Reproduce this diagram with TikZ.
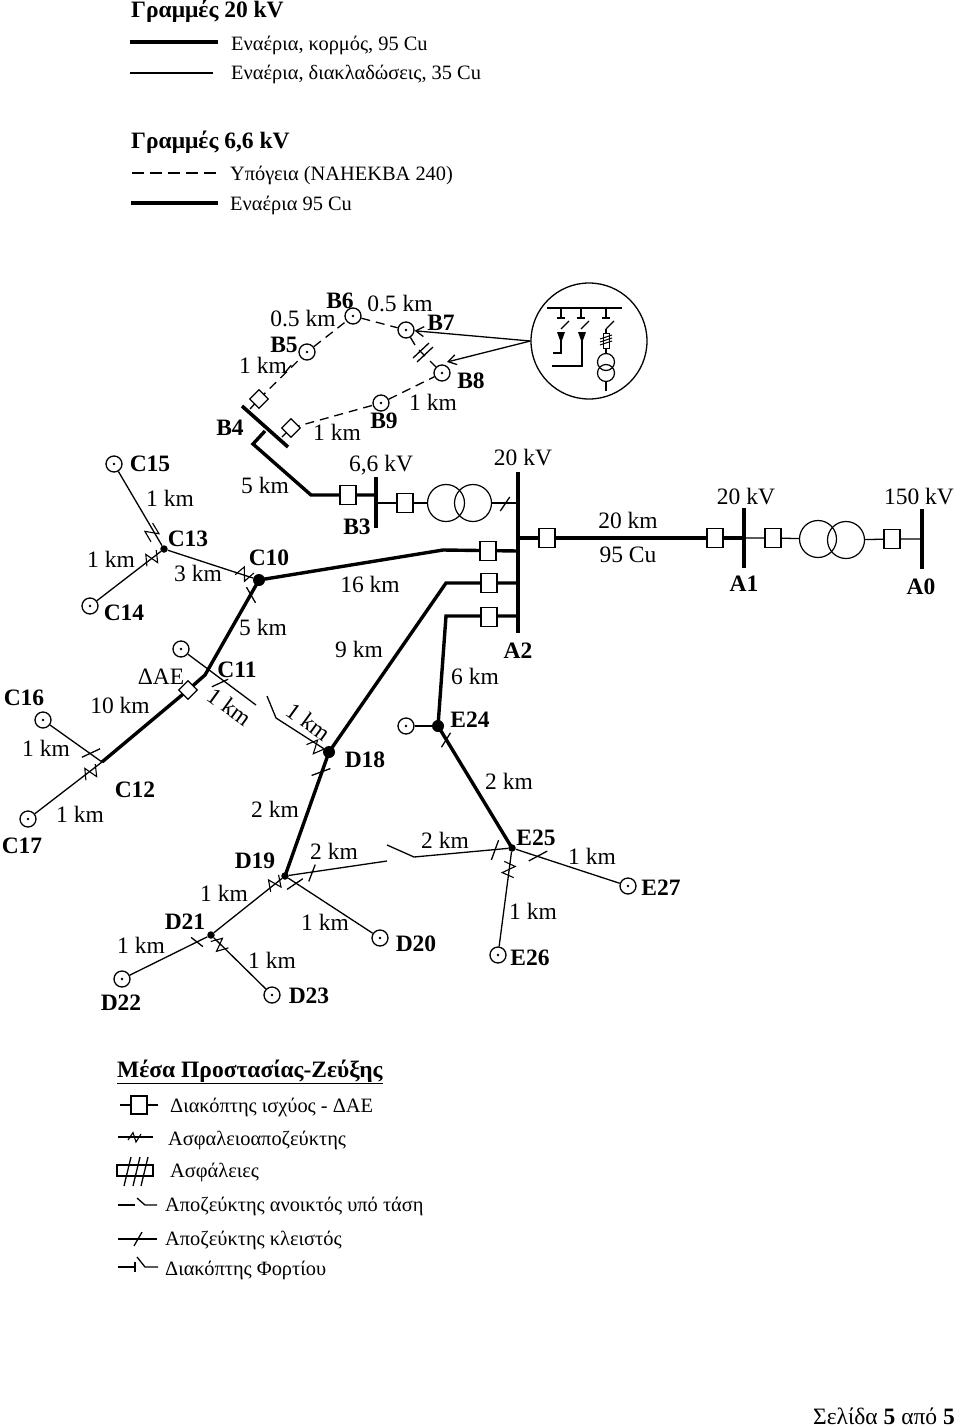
\documentclass[tikz,border=0pt]{standalone}
\usepackage{fontspec}
\setmainfont{Liberation Serif}
\usetikzlibrary{arrows.meta}

\tikzset{
    trunk/.style   = {line width = 3.4pt, line join = miter},
    branch/.style  = {line width = 1.3pt},
    pointer/.style = {line width = 1.3pt, -{Straight Barb[length = 8pt, width = 10pt]}},
    cable/.style   = {line width = 1.3pt, dash pattern = on 9pt off 6pt},
    cablekey/.style= {line width = 1.3pt, dash pattern = on 12pt off 6pt},
    busbar/.style  = {line width = 3.6pt},
    term/.style    = {circle, draw, line width = 1.3pt, minimum size = 16pt, inner sep = 0pt,
                      path picture = {\fill (path picture bounding box.center) circle (1.4pt);}},
    brk/.style     = {rectangle, draw, fill = white, line width = 1.2pt, minimum width = 16pt,
                      minimum height = 19pt, inner sep = 0pt},
    dae/.style     = {brk, minimum width = 13pt, minimum height = 13pt, rotate = 45},
    bigdot/.style  = {circle, fill, minimum size = 12pt, inner sep = 0pt},
    smalldot/.style= {circle, fill, minimum size = 7.5pt, inner sep = 0pt},
    trafo/.style   = {circle, draw, line width = 1.2pt, minimum size = 37pt, inner sep = 0pt},
    minitrafo/.style = {circle, draw, line width = 1.2pt, minimum size = 17pt, inner sep = 0pt},
    km/.style      = {font = \fontsize{23.5}{25}\selectfont, inner sep = 0pt},
    busname/.style = {font = \fontsize{23.5}{25}\selectfont\bfseries, inner sep = 0pt},
    legtext/.style = {font = \fontsize{20.4}{22}\selectfont, anchor = west, inner sep = 0pt},
    pics/slash/.style n args = {1}{code = {\draw[branch] (-#1,0pt) -- (#1,0pt);}},
    pics/fsw/.style = {code = {\draw[line width = 1.1pt] (-9pt,-4pt) -- (-3pt,6.5pt) -- (2pt,-7pt) -- (8pt,4pt);}},
    pics/fswkey/.style = {code = {\draw[line width = 1.1pt] (-7pt,-3pt) -- (-2pt,4.5pt) -- (1pt,-5pt) -- (6pt,3pt);}},
}

\begin{document}
\begin{tikzpicture}[x = 1pt, y = -1pt]
    \useasboundingbox (0,0) rectangle (960,1427);

    % line legend on top
    \node[busname, anchor = west] (title20) at (131,11)  {Γραμμές 20 kV};
    \node[busname, anchor = west] (title66) at (131,142) {Γραμμές 6,6 kV};
    \node[legtext] (txta) at (231,45)  {Εναέρια, κορμός, 95 Cu};
    \node[legtext] (txtb) at (231,74)  {Εναέρια, διακλαδώσεις, 35 Cu};
    \node[legtext] (txtc) at (230,175) {Υπόγεια (ΝΑΗΕΚΒΑ 240)};
    \node[legtext] (txtd) at (230,205) {Εναέρια 95 Cu};
    \foreach \n/\xa/\xb/\yy/\sty in {a/130/218/42/trunk, b/130/213/73/branch, c/132/216/173/cablekey, d/131/218/203/trunk} {
        \coordinate (\n0) at (\xa,\yy);
        \coordinate (\n1) at (\xb,\yy);
        \draw[\sty] (\n0) -- (\n1);
    }

    % terminals
    \foreach \n/\xx/\yy in {b5/307/352, b6/353/316, b7/406/330, b8/442/373, b9/381/403,
                            c11t/181/649, c14/90/606, c15/114/464, c16/43/720, c17/28/819,
                            d20/380/938, d22/122/979, d23/272/995,
                            e24t/406/726, e26/498/955, e27/628/886}
        \node[term] (\n) at (\xx,\yy) {};

    % junctions
    \node[bigdot] (c10) at (259,580) {};
    \node[bigdot] (d18) at (329,752) {};
    \node[bigdot] (e24) at (438,726) {};
    \node[smalldot] (c13) at (164,549) {};
    \node[smalldot] (d19) at (285,876) {};
    \node[smalldot] (d21) at (211,935) {};
    \node[smalldot] (e25) at (512,848) {};

    % busbars
    \foreach \n/\xx/\ya/\yb in {a0/922/509/569, a1/744/508/568, a2/518/472/633, b3/376/477/528} {
        \coordinate (\n t) at (\xx,\ya);
        \coordinate (\n b) at (\xx,\yb);
        \draw[busbar] (\n t) -- (\n b);
    }
    \coordinate (b4t) at (242,406);
    \coordinate (b4b) at (288,447);
    \draw[busbar] (b4t) -- (b4b);

    % 20 kV feeders
    \coordinate (a1m) at (744,538);
    \coordinate (a0m) at (922,539);
    \coordinate (a2m) at (518,538);
    \coordinate (a2p) at (518,551);
    \coordinate (a2q) at (518,583);
    \coordinate (a2r) at (518,616);
    \coordinate (a2s) at (518,503);
    \coordinate (b3m) at (376,503);
    \coordinate (b3n) at (376,495);
    \coordinate (b4m) at (265,431);
    \coordinate (c16e) at (102,762);
    \coordinate (c11) at (205,675);
    \coordinate (c11e) at (256,705);
    \coordinate (d18a) at (276,718);
    \coordinate (d18b) at (267,696);
    \coordinate (d19e) at (387,861);
    \coordinate (e25a) at (414,857);
    \coordinate (e25b) at (387,845);
    \draw[trunk] (a2m) -- (a1m);
    \draw[trunk] (a2p) -- (443,550) -- (c10.center);
    \draw[trunk] (a2q) -- (446,583) -- (d18.center);
    \draw[trunk] (a2r) -- (446,616) -- (e24.center);
    \draw[trunk] (e24.center) -- (e25.center);
    \draw[trunk] (d18.center) -- (d19.center);
    \draw[trunk] (c10.center) -- (c11) -- (188,690) -- (c16e);
    \draw[trunk] (b3n) -- (311,495) -- (253,444) -- (b4m);

    % thin lines
    \draw[branch] (c10) -- (c13);
    \draw[branch] (c13) -- (c14);
    \draw[branch] (c13) -- (c15);
    \draw[branch] (c16) -- (c16e);
    \draw[branch] (c17) -- (c16e);
    \draw[branch] (c11t) -- (c11e);
    \draw[branch] (d18) -- (d18a) -- (d18b);
    \draw[branch] (d19) -- (d19e);
    \draw[branch] (e25) -- (e25a) -- (e25b);
    \draw[branch] (d19) -- (d20);
    \draw[branch] (d19) -- (d21);
    \draw[branch] (d21) -- (d22);
    \draw[branch] (d21) -- (d23);
    \draw[branch] (e25) -- (e26);
    \draw[branch] (e25) -- (e27);
    \draw[branch] (e24t) -- (e24);

    % 6,6 kV ring
    \coordinate (b4a) at (250,409);
    \coordinate (b4c) at (282,437);
    \coordinate (fusea) at (415,345);
    \coordinate (fuseb) at (430,361);
    \draw[branch] (b4a) -- (259,399);
    \draw[branch] (b4c) -- (291,428);
    \draw[cable] (259,399) -- (b5);
    \draw[cable] (b5) -- (b6);
    \draw[cable] (b6) -- (b7);
    \draw[cable] (291,428) -- (b9);
    \draw[cable] (b9) -- (b8);
    \draw[branch] (b7) -- (fusea);
    \draw[branch] (fuseb) -- (b8);
    \draw[branch] (413,358) -- (429,343);
    \draw[branch] (417,362) -- (433,347);
    \draw[branch] (419,350) -- (425,356);

    % breakers
    \foreach \n/\xx/\yy in {q1/348/495, q2/405/503, q3/488/551, q4/489/583, q5/489/617,
                            q6/547/538, q7/715/538, q8/773/538, q9/892/539}
        \node[brk] (\n) at (\xx,\yy) {};
    \node[dae] (q10) at (259,399) {};
    \node[dae] (q11) at (291,428) {};
    \node[dae] (q12) at (188,690) {};

    % transformers
    \node[trafo] (t1a) at (446,503) {};
    \node[trafo] (t1b) at (473,503) {};
    \node[trafo] (t2a) at (818,539) {};
    \node[trafo] (t2b) at (846,540) {};
    \draw[branch] (b3m) -- (q2) -- (t1a);
    \draw[branch] (t1b) -- (a2s);
    \draw[branch] (a1m) -- (q8) -- (t2a);
    \draw[branch] (t2b) -- (q9) -- (a0m);

    % disconnectors and fuse switches
    \foreach \xx/\yy/\ang/\len in {91/753/25/10pt, 220/683/25/9pt, 251/595/-60/9pt, 321/772/20/10pt,
                                   446/740/58/8.5pt, 495/850/70/10.5pt, 538/856/28/10.5pt,
                                   312/873/69/9pt, 295/884/34/9.5pt, 197/942/-38/7.5pt,
                                   288/369/50/5pt, 505/504/56/8.5pt}
        \pic[rotate = \ang] at (\xx,\yy) {slash = {\len}};
    \foreach \xx/\yy/\ang in {245/574/-20, 152/532/60, 152/558/35, 91/772/35,
                              316/747/-38, 275/883/40, 220/945/-45, 509/870/-85}
        \pic[rotate = \ang] at (\xx,\yy) {fsw};

    % inset with the substation
    \node[circle, draw, line width = 1.3pt, minimum size = 116pt, inner sep = 0pt] (inset) at (589,341) {};
    \coordinate (b8a) at (447,362);
    \draw[pointer] (inset.west) -- (b7);
    \draw[pointer] (inset.west) -- (b8a);
    \draw[branch] (547,308) -- (622,308);
    \foreach \xx in {561,581,606} {
        \draw[branch] (\xx,308) -- (\xx,318);
        \draw[branch] (\xx-4,318) -- (\xx+4,318);
        \draw[branch] (\xx,329) -- (\xx+8,321);
    }
    \fill (557,332) -- (565,332) -- (561,343) -- cycle;
    \fill (578,332) -- (586,332) -- (582,343) -- cycle;
    \draw[branch] (561,332) -- (561,353) -- (553,353);
    \draw[line width = 1.5pt] (582,332) -- (582,366) -- (552,366);
    \node[minitrafo] (t3a) at (606,362) {};
    \node[minitrafo] (t3b) at (606,373) {};
    \coordinate (t3e) at (606,391);
    \coordinate (t3s) at (606,329);
    \draw[branch] (t3s) -- (t3a);
    \draw[branch] (t3b) -- (t3e);
    \draw[line width = 1pt, fill = white] (603,333) rectangle (609,348);
    \foreach \yy in {337,340,343}
        \draw[line width = 1pt] (600,\yy+2) -- (612,\yy-2);

    % names
    \foreach \t/\xx/\yy in {B6/340/301, B7/441/323, B5/284/345, B8/471/381, B9/384/421, B4/230/428,
                            C15/150/464, C13/188/539, C10/269/558, B3/357/527, C14/124/613, A2/518/651,
                            C11/237/670, C16/24/698, E24/470/720, D18/365/760, C12/135/790, C17/22/846,
                            E25/536/838, D19/255/861, E27/661/888, D21/185/922, D20/416/944, E26/530/958,
                            D23/309/996, D22/121/1003, A1/744/584, A0/921/587}
        \node[busname] (lab\t) at (\xx,\yy) {\t};

    % lengths and voltages
    \foreach \t/\xx/\yy [count = \i] in {0.5 km/400/304, 0.5 km/303/319, 1 km/263/365, 1 km/433/402,
                            1 km/337/432, {6,6 kV}/381/465, 20 kV/523/458, 5 km/265/485, 1 km/170/498,
                            1 km/111/559, 3 km/198/573, 16 km/370/584, 5 km/263/627, 9 km/359/649,
                            ΔΑΕ/161/677, 6 km/475/676, 10 km/120/705, 1 km/46/748, 1 km/80/814,
                            2 km/275/809, 2 km/509/781, 2 km/445/840, 2 km/334/851, 1 km/592/856,
                            1 km/224/893, 1 km/533/911, 1 km/325/922, 1 km/141/945, 1 km/272/960,
                            20 km/628/520, 95 Cu/628/555, 20 kV/746/497, 150 kV/919/497}
        \node[km] (km\i) at (\xx,\yy) {\t};
    \node[km, rotate = -36] (kmrota) at (230,707) {1 km};
    \node[km, rotate = -36] (kmrotb) at (309,722) {1 km};

    % legend of the switching devices
    \node[busname, anchor = west] (meansttl) at (117,1072) {\underline{Μέσα Προστασίας-Ζεύξης}};
    \node[legtext] (mean1) at (170,1107) {Διακόπτης ισχύος - ΔΑΕ};
    \node[legtext] (mean2) at (168,1140) {Ασφαλειοαποζεύκτης};
    \node[legtext] (mean3) at (170,1172) {Ασφάλειες};
    \node[legtext] (mean4) at (165,1206) {Αποζεύκτης ανοικτός υπό τάση};
    \node[legtext] (mean5) at (165,1240) {Αποζεύκτης κλειστός};
    \node[legtext] (mean6) at (165,1270) {Διακόπτης Φορτίου};

    \draw[branch] (120,1105) -- (158,1105);
    \node[brk, minimum height = 18pt] (symq) at (139,1105) {};
    \draw[branch] (118,1137) -- (153,1137);
    \pic at (135,1137) {fswkey};
    \draw[branch] (117,1165) rectangle (153,1176);
    \foreach \xx in {124,133,141}
        \draw[branch] (\xx,1186) -- (\xx+7,1157);
    \draw[branch] (118,1205) -- (135,1205);
    \draw[branch] (137,1198) -- (145,1205) -- (157,1205);
    \draw[branch] (118,1239) -- (157,1239);
    \pic[rotate = 60] at (138,1239) {slash = {8pt}};
    \draw[branch] (118,1267) -- (135,1267);
    \draw[branch] (135,1262) -- (135,1272);
    \draw[branch] (137,1257) -- (145,1267) -- (158,1267);

    \node[km, anchor = base east] (pageno) at (955,1424) {Σελίδα \textbf{5} από \textbf{5}};
\end{tikzpicture}
\end{document}
